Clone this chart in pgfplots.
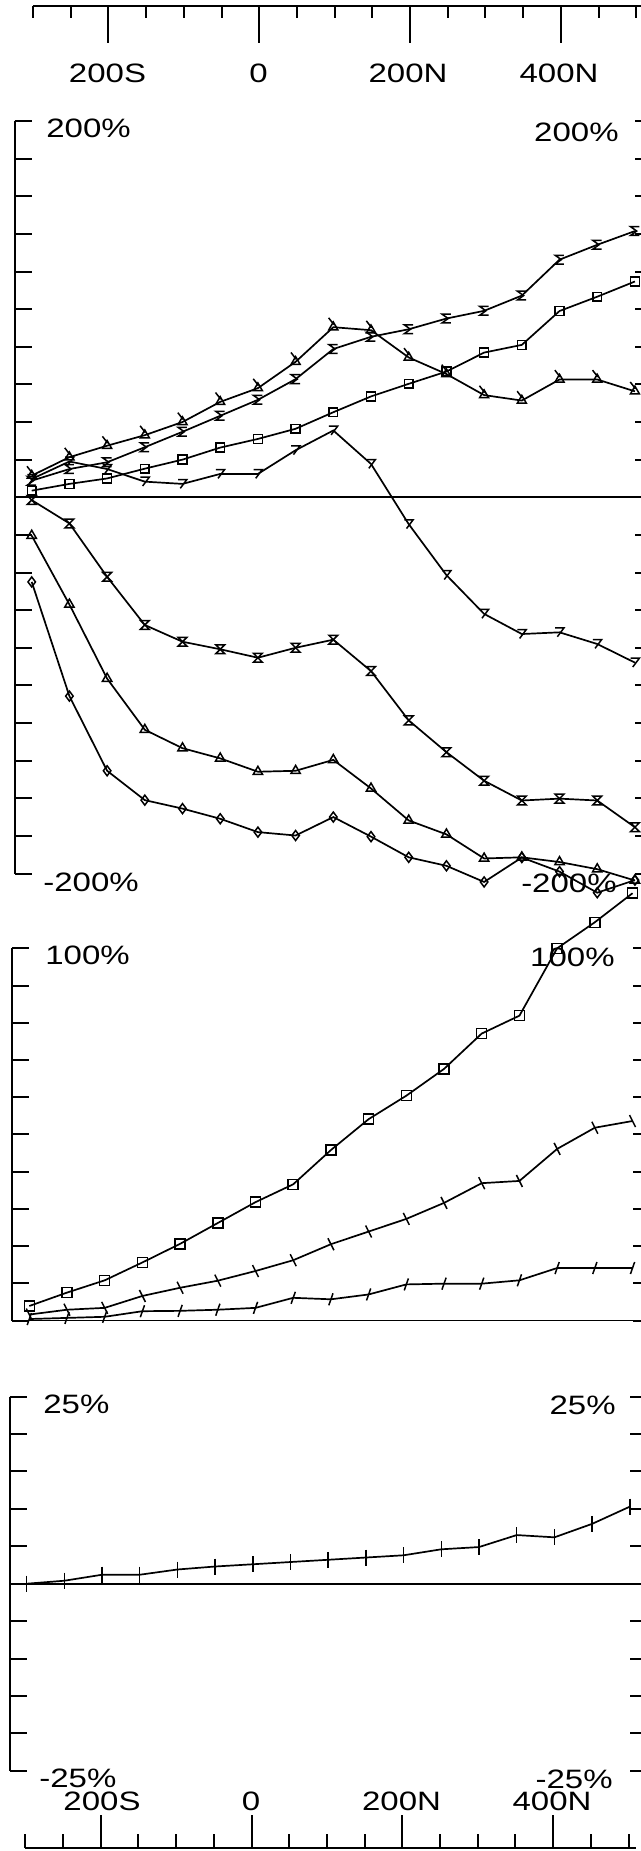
\documentclass[border=0pt]{standalone}
\usepackage{pgfplots}
\usepackage{pgfplotstable}
\pgfplotsset{compat=1.18}
\usepackage{fontspec}
\setmainfont{Liberation Sans}
\newcommand{\lab}[1]{\scalebox{1.24}[1]{#1}}
\pgfdeclareplotmark{hourglass}{%
  \pgfpathmoveto{\pgfqpoint{-\pgfplotmarksize}{\pgfplotmarksize}}%
  \pgfpathlineto{\pgfqpoint{\pgfplotmarksize}{\pgfplotmarksize}}%
  \pgfpathlineto{\pgfqpoint{-\pgfplotmarksize}{-\pgfplotmarksize}}%
  \pgfpathlineto{\pgfqpoint{\pgfplotmarksize}{-\pgfplotmarksize}}%
  \pgfpathclose\pgfusepathqstroke}
\pgfdeclareplotmark{sigma}{%
  \pgfpathmoveto{\pgfqpoint{\pgfplotmarksize}{\pgfplotmarksize}}%
  \pgfpathlineto{\pgfqpoint{-\pgfplotmarksize}{\pgfplotmarksize}}%
  \pgfpathlineto{\pgfqpoint{0.4\pgfplotmarksize}{0pt}}%
  \pgfpathlineto{\pgfqpoint{-\pgfplotmarksize}{-\pgfplotmarksize}}%
  \pgfpathlineto{\pgfqpoint{\pgfplotmarksize}{-\pgfplotmarksize}}%
  \pgfusepathqstroke}
\pgfdeclareplotmark{seven}{%
  \pgfpathmoveto{\pgfqpoint{-\pgfplotmarksize}{\pgfplotmarksize}}%
  \pgfpathlineto{\pgfqpoint{\pgfplotmarksize}{\pgfplotmarksize}}%
  \pgfpathlineto{\pgfqpoint{-0.5\pgfplotmarksize}{-\pgfplotmarksize}}%
  \pgfusepathqstroke}
\pgfdeclareplotmark{tritail}{%
  \pgfpathmoveto{\pgfqpoint{0pt}{\pgfplotmarksize}}%
  \pgfpathlineto{\pgfqpoint{-0.866\pgfplotmarksize}{-0.5\pgfplotmarksize}}%
  \pgfpathlineto{\pgfqpoint{0.866\pgfplotmarksize}{-0.5\pgfplotmarksize}}%
  \pgfpathclose
  \pgfpathmoveto{\pgfqpoint{-0.9\pgfplotmarksize}{1.8\pgfplotmarksize}}%
  \pgfpathlineto{\pgfqpoint{0.1\pgfplotmarksize}{0.5\pgfplotmarksize}}%
  \pgfusepathqstroke}
\pgfdeclareplotmark{bslash}{%
  \pgfpathmoveto{\pgfqpoint{-0.5\pgfplotmarksize}{\pgfplotmarksize}}%
  \pgfpathlineto{\pgfqpoint{0.5\pgfplotmarksize}{-\pgfplotmarksize}}%
  \pgfusepathqstroke}
\pgfdeclareplotmark{fslash}{%
  \pgfpathmoveto{\pgfqpoint{-0.35\pgfplotmarksize}{-\pgfplotmarksize}}%
  \pgfpathlineto{\pgfqpoint{0.35\pgfplotmarksize}{\pgfplotmarksize}}%
  \pgfusepathqstroke}

\pgfplotstableread{
x T S Q V H A D
-300 11.5 8.8 3.5 9.7 -1.5 -20.4 -45.0
-250 21.3 15.0 7.1 19.0 -13.9 -57.0 -105.7
-200 27.4 18.6 10.0 15.0 -42.3 -96.4 -145.4
-150 33.0 26.6 15.2 8.3 -67.9 -123.6 -161.0
-100 40.0 34.8 20.0 7.1 -76.8 -133.4 -165.5
-50 50.7 43.3 26.4 12.4 -80.8 -138.8 -170.9
0 58.0 51.8 31.0 12.4 -85.3 -145.9 -178.0
50 72.0 62.8 36.4 25.0 -80.0 -145.4 -179.8
100 90.4 78.8 45.2 35.5 -75.7 -139.6 -170.0
150 88.8 85.3 53.6 17.7 -92.4 -154.8 -180.4
200 74.3 89.3 60.3 -14.3 -118.6 -171.8 -191.4
250 65.5 95.0 66.8 -41.4 -135.5 -179.2 -195.9
300 54.3 99.1 76.9 -62.0 -150.7 -192.0 -204.5
350 51.4 107.2 81.0 -72.7 -161.2 -191.4 -191.5
400 62.6 126.3 99.0 -71.8 -160.2 -193.9 -199.0
450 62.6 134.2 106.6 -78.0 -161.2 -197.7 -210.2
500 56.3 141.5 114.7 -87.9 -175.4 -203.7 -203.5
}\pone

\pgfplotstableread{
x Q M B
-300 3.9 1.6 0.4
-250 7.5 2.9 0.7
-200 10.8 3.4 1.0
-150 15.6 6.6 2.5
-100 20.6 8.8 2.6
-50 26.2 10.7 2.9
0 31.8 13.3 3.4
50 36.6 16.2 6.1
100 45.8 20.5 5.7
150 54.1 23.9 7.0
200 60.4 27.3 9.7
250 67.6 31.6 9.9
300 77.1 36.9 9.9
350 81.9 37.5 10.8
400 100.0 46.1 14.1
450 107.0 51.8 14.1
500 114.8 53.6 14.1
}\ptwo

\pgfplotstableread{
x P
-300 0.0
-250 0.4
-200 1.2
-150 1.2
-100 1.9
-50 2.3
0 2.6
50 2.9
100 3.2
150 3.5
200 3.8
250 4.6
300 4.9
350 6.5
400 6.2
450 8.0
500 10.3
}\pthree

\pgfplotsset{
  panel/.style={scale only axis, anchor=south west, clip=false,
    axis line style={draw=none}, xtick=\empty, yticklabels={},
    tick align=inside, ytick pos=both, major tick length=8.48pt,
    tick style={black, line width=1pt},
    xmin=-322.5, xmax=522.5, width=318.565pt},
  scale/.style={scale only axis, anchor=south west, clip=false,
    axis line style={draw=none}, ytick=\empty, xticklabels={},
    tick align=inside, xmin=-300, xmax=510, ymin=0, ymax=1,
    width=305.37pt, height=50pt,
    xtick={-200,0,200,400}, minor xtick={-300,-250,...,500},
    tick style={black, line width=1pt}},
  ser/.style={black, line width=0.85pt, mark options={solid, line width=0.75pt}}
}

\begin{document}
\begin{tikzpicture}
\useasboundingbox (0,0) rectangle (320.5pt,-925.5pt);

% top scale
\begin{axis}[scale, at={(16.5pt,-53pt)}, xtick pos=right,
  major tick length=18.5pt, minor tick length=6pt]
\draw[line width=1pt] (axis cs:-300,1) -- (axis cs:510,1);
\end{axis}

% panel 1
\begin{axis}[panel, at={(7.37pt,-436.75pt)}, height=376.25pt,
  ymin=-200, ymax=200, ytick={-200,-180,...,200}]
\draw[line width=1pt] (axis cs:-322.5,-200) -- (axis cs:-322.5,200);
\draw[line width=1pt] (axis cs:522.5,-200) -- (axis cs:522.5,200);
\draw[line width=0.8pt] (axis cs:-322.5,0) -- (axis cs:522.5,0);
\addplot[ser, mark=tritail, mark size=2.6pt] table[x=x,y=T]{\pone};
\addplot[ser, mark=sigma, mark size=2.2pt] table[x=x,y=S]{\pone};
\addplot[ser, mark=square, mark size=2.2pt] table[x=x,y=Q]{\pone};
\addplot[ser, mark=seven, mark size=2.2pt] table[x=x,y=V]{\pone};
\addplot[ser, mark=hourglass, mark size=2.2pt] table[x=x,y=H]{\pone};
\addplot[ser, mark=triangle, mark size=2.7pt] table[x=x,y=A]{\pone};
\addplot[ser, mark=diamond, mark size=2.5pt] table[x=x,y=D]{\pone};
\end{axis}

% panel 2
\begin{axis}[panel, at={(6.17pt,-660.25pt)}, height=186.1pt,
  ymin=0, ymax=100, ytick={0,10,...,100}]
\draw[line width=1pt] (axis cs:-322.5,0) -- (axis cs:-322.5,100);
\draw[line width=1pt] (axis cs:522.5,0) -- (axis cs:522.5,100);
\draw[line width=0.8pt] (axis cs:-322.5,0) -- (axis cs:522.5,0);
\addplot[ser, mark=square, mark size=2.5pt] table[x=x,y=Q]{\ptwo};
\addplot[ser, mark=bslash, mark size=3pt] table[x=x,y=M]{\ptwo};
\addplot[ser, mark=fslash, mark size=3pt] table[x=x,y=B]{\ptwo};
\end{axis}

% panel 3
\begin{axis}[panel, at={(4.82pt,-885.4pt)}, height=187.1pt,
  ymin=-25, ymax=25, ytick={-25,-20,...,25}]
\draw[line width=1pt] (axis cs:-322.5,-25) -- (axis cs:-322.5,25);
\draw[line width=1pt] (axis cs:522.5,-25) -- (axis cs:522.5,25);
\draw[line width=0.8pt] (axis cs:-322.5,0) -- (axis cs:522.5,0);
\addplot[ser, mark=|, mark size=4pt] table[x=x,y=P]{\pthree};
\end{axis}

% bottom scale
\begin{axis}[scale, at={(12.65pt,-924pt)}, xtick pos=left,
  major tick length=16.5pt, minor tick length=7pt]
\draw[line width=1pt] (axis cs:-300,0) -- (axis cs:510,0);
\end{axis}

% labels
\begin{scope}[every node/.style={font=\fontsize{13.3}{15}\selectfont, inner sep=0pt}]
\node at (53.75pt,-36.5pt) {\lab{200S}};
\node at (129.25pt,-36.5pt) {\lab{0}};
\node at (204pt,-36.5pt) {\lab{200N}};
\node at (279.5pt,-36.5pt) {\lab{400N}};
\node at (51pt,-900.5pt) {\lab{200S}};
\node at (125.5pt,-900.5pt) {\lab{0}};
\node at (200.75pt,-900.5pt) {\lab{200N}};
\node at (276pt,-900.5pt) {\lab{400N}};
\node[anchor=west] at (23pt,-64pt) {\lab{200\%}};
\node[anchor=east] at (309.5pt,-66pt) {\lab{200\%}};
\node[anchor=west] at (21.5pt,-441pt) {\lab{-200\%}};
\node[anchor=east] at (308.5pt,-441.5pt) {\lab{-200\%}};
\node[anchor=west] at (22.5pt,-477.5pt) {\lab{100\%}};
\node[anchor=east] at (307.5pt,-478.5pt) {\lab{100\%}};
\node[anchor=west] at (21.5pt,-702pt) {\lab{25\%}};
\node[anchor=east] at (308pt,-702.5pt) {\lab{25\%}};
\node[anchor=west] at (19.5pt,-889pt) {\lab{-25\%}};
\node[anchor=east] at (306.5pt,-889.5pt) {\lab{-25\%}};
\end{scope}
\end{tikzpicture}
\end{document}
